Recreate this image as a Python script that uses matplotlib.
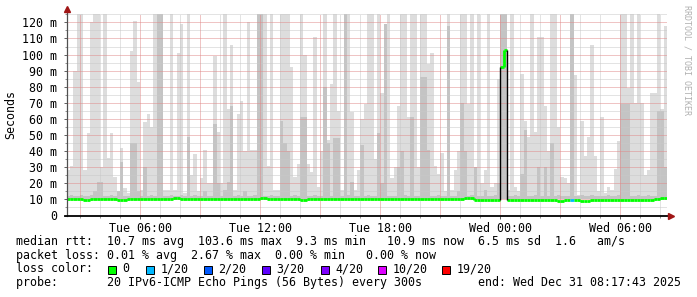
import numpy as np
import matplotlib
matplotlib.use('Agg')
import matplotlib.pyplot as plt
from matplotlib.patches import Rectangle

plt.rcParams['font.family'] = ['DejaVu Sans Mono', 'DejaVu Sans']

W, H = 697, 297

# 10 minute steps, hours counted from Tue 00:00
t_start = 2.33
step_h = 1 / 6.

# top of the light smoke (max ping), ms
smoke_max = [28, 31, 90, 125, 125, 28, 51, 120, 125, 125, 30, 125, 36, 51, 24, 15, 42, 17, 14, 102,
             121, 83, 16, 58, 63, 55, 125, 125, 125, 16, 16, 125, 16, 101, 119, 14,
             125, 25, 38, 15, 23, 41, 20, 20, 99, 52, 20, 125, 66, 106, 16, 63, 71, 40, 120, 41,
             41, 125, 125, 125, 31, 125, 16, 16, 125, 125, 125, 92, 24, 32, 125, 100,
             32, 27, 111, 18, 40, 125, 47, 82, 125, 65, 16, 125, 125, 64, 16, 28, 60, 69, 125, 125,
             35, 125, 76, 119, 125, 23, 30, 68, 125, 125, 61, 125, 125, 30, 125, 125,
             94, 101, 31, 26, 39, 15, 125, 16, 28, 40, 125, 125, 69, 125, 27, 125, 20, 28, 125, 18,
             20, 85, 125, 125, 16, 125, 18, 15, 88, 59, 49, 125, 52, 111, 111, 68,
             40, 125, 125, 55, 24, 23, 20, 125, 87, 13, 59, 37, 49, 106, 37, 15, 61, 14, 18, 16,
             29, 46, 125, 125, 79, 125, 70, 125, 70, 25, 28, 76, 76, 125, 66, 118]

# top of the darker inner smoke, ms
smoke_mid = [12, 13, 12, 12, 13, 12, 12, 13, 15, 21, 21, 12, 12, 13, 12, 15, 33, 12, 12, 45,
             45, 15, 12, 30, 12, 13, 12, 125, 125, 12, 12, 13, 12, 12, 13, 12,
             49, 12, 13, 12, 12, 15, 12, 12, 57, 20, 12, 16, 21, 68, 12, 13, 12, 15, 12, 12,
             13, 125, 125, 12, 12, 13, 12, 12, 59, 45, 40, 12, 13, 12, 61, 61,
             12, 12, 13, 12, 12, 80, 45, 12, 48, 48, 12, 125, 13, 21, 12, 12, 44, 12, 13, 12,
             12, 51, 20, 119, 12, 12, 12, 30, 40, 13, 12, 61, 12, 12, 86, 86,
             41, 12, 12, 13, 12, 12, 118, 12, 12, 15, 70, 40, 12, 13, 30, 12, 12, 16, 12, 12,
             13, 20, 125, 125, 12, 12, 13, 12, 26, 53, 12, 12, 13, 30, 12, 30,
             12, 45, 12, 13, 12, 12, 12, 125, 12, 12, 13, 12, 12, 13, 12, 12, 12, 12, 13, 12,
             12, 13, 69, 69, 69, 12, 12, 13, 12, 12, 13, 12, 12, 65, 65, 30]

# median rtt, ms
median = [10.5, 10.5, 10.5, 10.5, 10.5, 9.6, 9.6, 10.5, 10.5, 10.5, 10.5, 10.5, 10.5, 10.5, 10.5,
          9.5, 9.5, 9.5, 10.5, 10.5, 10.5, 10.5, 10.5, 10.5, 10.5, 10.5, 10.5, 10.5, 10.5, 10.5,
          10.0, 10.5, 10.7, 10.7, 10.5, 10.5,
          10.5, 10.5, 10.5, 10.5, 10.5, 10.5, 10.5, 10.5, 10.5, 10.5, 10.5, 10.5, 10.5, 10.5, 10.5,
          10.5, 10.5, 10.5, 10.5, 10.5, 10.5, 10.5, 10.8, 10.8, 10.5, 10.5, 10.5, 10.5, 10.5, 10.5,
          10.5, 10.5, 10.5, 10.5, 9.6, 9.6,
          10.2, 10.4, 10.4, 10.4, 10.4, 10.4, 10.4, 10.4, 10.4, 10.4, 10.4, 10.4, 10.4, 10.4, 10.4,
          10.4, 10.4, 10.4, 10.4, 10.4, 10.4, 10.4, 10.4, 10.4, 10.4, 10.4, 10.4, 10.4, 10.4, 10.4,
          10.4, 10.4, 10.4, 10.4, 10.4, 10.4,
          10.4, 10.4, 10.4, 10.4, 10.4, 10.4, 10.4, 10.4, 10.4, 10.4, 10.4, 11.0, 11.0, 11.0, 9.7,
          9.7, 9.7, 9.7, 9.7, 9.7, 9.7, 9.7, 92.0, 103.0, 9.7, 9.7, 9.7, 9.7, 9.7, 9.7,
          9.7, 9.7, 9.7, 9.7, 9.7, 9.7,
          9.7, 9.7, 9.7, 9.3, 9.3, 9.7, 9.7, 9.7, 9.7, 9.7, 9.3, 9.3, 9.3, 9.7, 9.7, 9.7,
          9.7, 9.7, 9.7, 9.7, 9.7, 9.7, 9.7, 9.7, 9.7, 9.7, 9.7, 9.7, 9.7, 9.7, 9.7, 9.7,
          10.2, 10.2, 11.0, 11.0]

# steps with packet loss (index, loss level in 20ths)
loss_steps = [151]
loss_level = [1]

loss_names = ['0', '1/20', '2/20', '3/20', '4/20', '10/20', '19/20']
loss_colors = ['#00ff00', '#00b8ff', '#0059ff', '#5e00ff', '#7e00ff', '#dd00ff', '#ff0000']
loss_key = {0: 0, 1: 1, 2: 2, 3: 3, 4: 4, 10: 5, 19: 6}

xtick_hours = [6, 12, 18, 24, 30]
xtick_labels = ['Tue 06:00', 'Tue 12:00', 'Tue 18:00', 'Wed 00:00', 'Wed 06:00']
ytick_vals = list(range(0, 121, 10))
ytick_labels = ['0'] + ['%d m' % v for v in range(10, 121, 10)]

line1 = 'median rtt:  10.7 ms avg  103.6 ms max  9.3 ms min   10.9 ms now  6.5 ms sd  1.6   am/s'
line2 = 'packet loss: 0.01 % avg  2.67 % max  0.00 % min   0.00 % now'
line4 = 'probe:       20 IPv6-ICMP Echo Pings (56 Bytes) every 300s'
end_txt = 'end: Wed Dec 31 08:17:43 2025'

FS = 8.4


def fx(px):
    return px / W


def fy(py):
    return 1 - py / H


fig = plt.figure(figsize=(W / 100, H / 100), dpi=100)
ax = fig.add_axes([fx(66.7), fy(215.5), fx(600.3), 201.5 / H])
t_end = t_start + 30
ax.set_xlim(t_start, t_end)
ax.set_ylim(0, 125.2)
for s in ax.spines.values():
    s.set_visible(False)

edges = t_start + np.arange(len(smoke_max) + 1) * step_h
smax = np.append(smoke_max, smoke_max[-1])
smid = np.append(smoke_mid, smoke_mid[-1])
ax.fill_between(edges, 10, smax, step='post', color='#dddddd', lw=0, zorder=1)
ax.fill_between(edges, 10, smid, step='post', color='#c4c4c4', lw=0, zorder=1.1)

# grid, rrdtool style dotted
dot = (0, (1, 1))
for v in range(5, 126, 10):
    ax.axhline(v, color='#c8c8c8', lw=0.72, ls=dot, zorder=2)
for v in range(10, 121, 10):
    ax.axhline(v, color='#e08a8a', lw=0.72, ls=dot, zorder=2.1)
for hr in range(3, 33):
    c = '#e08a8a' if hr % 3 == 0 else '#c8c8c8'
    ax.axvline(hr, color=c, lw=0.72, ls=dot, zorder=2)

# median line coloured by loss; big jumps drawn as thin black risers
seg_col = [loss_colors[0]] * len(median)
for i, lv in zip(loss_steps, loss_level):
    seg_col[i] = loss_colors[loss_key[lv]]
ax.hlines(median, edges[:-1], edges[1:], colors=seg_col, lw=2.0, zorder=4)
for i in range(len(median) - 1):
    lo, hi = sorted((median[i], median[i + 1]))
    if hi - lo > 20:
        ax.vlines(edges[i + 1] if median[i + 1] < median[i] else edges[i + 1],
                  lo, hi, color='black', lw=1.0, zorder=4.2)
    elif hi > lo:
        ax.vlines(edges[i + 1], lo, hi, color=loss_colors[0], lw=2.0, zorder=4)

# axes with arrows
ax.plot([t_start, t_start], [0, 127.5], color='#505050', lw=0.9, clip_on=False, zorder=5)
ax.plot([t_start - 0.1, t_end + 0.05], [0, 0], color='black', lw=1.3, clip_on=False, zorder=5)
ax.plot(t_start, 128.5, marker='^', color='#a01515', ms=4.5, clip_on=False, zorder=6)
ax.plot(t_end + 0.2, 0, marker='>', color='#a01515', ms=4.5, clip_on=False, zorder=6)

ax.set_yticks(ytick_vals, ytick_labels)
ax.set_yticks(list(range(5, 126, 10)), minor=True)
ax.set_xticks(xtick_hours, xtick_labels)
ax.set_xticks(list(range(3, 33)), minor=True)
ax.tick_params(axis='both', which='major', length=2.2, width=0.7, color='#606060',
               labelsize=FS, labelcolor='black')
ax.tick_params(axis='both', which='minor', length=1.5, width=0.7, color='#909090')
ax.tick_params(axis='y', which='major', pad=4.5)
ax.tick_params(axis='x', which='major', pad=2.5)

fig.text(fx(11), fy(114.7), 'Seconds', rotation=90, ha='center', va='center', fontsize=FS)
fig.text(fx(687), fy(5), 'RRDTOOL / TOBI OETIKER', rotation=270, ha='center', va='top',
         fontsize=6, color='#b0b0b0')

# legend block
fig.text(fx(16), fy(241.5), line1, va='center', fontsize=FS)
fig.text(fx(16), fy(255.2), line2, va='center', fontsize=FS)
fig.text(fx(16), fy(269), 'loss color:', va='center', fontsize=FS)
sq_x = [108, 146, 203.5, 262, 320.5, 378, 442]
lab_x = [122.5, 160.5, 218, 276.5, 335, 393, 456.5]
for sx, lx, name, col in zip(sq_x, lab_x, loss_names, loss_colors):
    fig.patches.append(Rectangle((fx(sx), fy(273.5)), fx(8), 8 / H, transform=fig.transFigure,
                                 facecolor=col, edgecolor='black', lw=0.7))
    fig.text(fx(lx), fy(269), name, va='center', fontsize=FS)
fig.text(fx(16), fy(282.7), line4, va='center', fontsize=FS)
fig.text(fx(478), fy(282.7), end_txt, va='center', fontsize=FS)

fig.savefig('out.png', dpi=100)
